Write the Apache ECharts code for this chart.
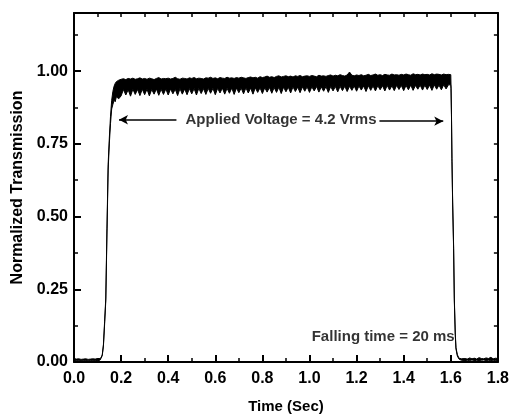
<!DOCTYPE html>
<html>
<head>
<meta charset="utf-8">
<script src="https://cdn.jsdelivr.net/npm/echarts@6/dist/echarts.min.js"></script>
<style>
html,body{margin:0;padding:0;background:#fff;}
#chart{width:512px;height:419px;}
</style>
</head>
<body>
<div id="chart"></div>
<script>
// ---- data ----
// baseline before the voltage is applied
const baseTime  = [0, 0.01, 0.02, 0.03, 0.04, 0.05, 0.06, 0.07, 0.08, 0.09, 0.10, 0.11];
const baseUpper = [0.012, 0.010, 0.011, 0.009, 0.010, 0.011, 0.009, 0.010, 0.011, 0.010, 0.012, 0.012];
const baseLower = [0.004, 0.005, 0.004, 0.005, 0.004, 0.005, 0.004, 0.005, 0.004, 0.005, 0.005, 0.006];

// rising edge
const riseTime  = [0.115, 0.12, 0.125, 0.13, 0.135, 0.14, 0.145, 0.15, 0.155, 0.16, 0.165, 0.17, 0.175, 0.18, 0.19];
const riseUpper = [0.015, 0.025, 0.06, 0.14, 0.22, 0.46, 0.68, 0.77, 0.845, 0.90, 0.93, 0.948, 0.958, 0.964, 0.969];
const riseLower = [0.013, 0.022, 0.055, 0.13, 0.21, 0.44, 0.66, 0.75, 0.82, 0.87, 0.885, 0.900, 0.895, 0.912, 0.905];

// plateau (0.20 .. 1.60 s, every 10 ms): upper envelope and lower envelope (with the downward spikes)
const plateauTime = [
  0.20,0.21,0.22,0.23,0.24,0.25,0.26,0.27,0.28,0.29,
  0.30,0.31,0.32,0.33,0.34,0.35,0.36,0.37,0.38,0.39,
  0.40,0.41,0.42,0.43,0.44,0.45,0.46,0.47,0.48,0.49,
  0.50,0.51,0.52,0.53,0.54,0.55,0.56,0.57,0.58,0.59,
  0.60,0.61,0.62,0.63,0.64,0.65,0.66,0.67,0.68,0.69,
  0.70,0.71,0.72,0.73,0.74,0.75,0.76,0.77,0.78,0.79,
  0.80,0.81,0.82,0.83,0.84,0.85,0.86,0.87,0.88,0.89,
  0.90,0.91,0.92,0.93,0.94,0.95,0.96,0.97,0.98,0.99,
  1.00,1.01,1.02,1.03,1.04,1.05,1.06,1.07,1.08,1.09,
  1.10,1.11,1.12,1.13,1.14,1.15,1.16,1.17,1.18,1.19,
  1.20,1.21,1.22,1.23,1.24,1.25,1.26,1.27,1.28,1.29,
  1.30,1.31,1.32,1.33,1.34,1.35,1.36,1.37,1.38,1.39,
  1.40,1.41,1.42,1.43,1.44,1.45,1.46,1.47,1.48,1.49,
  1.50,1.51,1.52,1.53,1.54,1.55,1.56,1.57,1.58,1.59,
  1.60];
const plateauUpper = [
  0.972,0.974,0.971,0.975,0.973,0.976,0.972,0.974,0.977,0.973,
  0.975,0.972,0.976,0.974,0.971,0.975,0.978,0.973,0.975,0.974,
  0.976,0.973,0.975,0.979,0.974,0.972,0.976,0.975,0.973,0.977,
  0.975,0.978,0.974,0.976,0.975,0.973,0.977,0.976,0.979,0.975,
  0.977,0.974,0.978,0.976,0.975,0.979,0.976,0.977,0.975,0.978,
  0.976,0.979,0.977,0.975,0.978,0.980,0.977,0.979,0.976,0.981,
  0.978,0.980,0.983,0.979,0.981,0.978,0.982,0.984,0.980,0.982,
  0.984,0.981,0.983,0.980,0.984,0.982,0.985,0.981,0.983,0.984,
  0.982,0.985,0.983,0.981,0.986,0.983,0.984,0.982,0.985,0.987,
  0.983,0.986,0.984,0.988,0.985,0.983,0.987,0.997,0.986,0.984,
  0.987,0.985,0.988,0.984,0.986,0.989,0.985,0.987,0.990,0.986,
  0.988,0.985,0.989,0.987,0.986,0.990,0.987,0.988,0.986,0.989,
  0.987,0.990,0.988,0.986,0.991,0.988,0.989,0.987,0.990,0.988,
  0.989,0.987,0.991,0.988,0.990,0.989,0.987,0.990,0.988,0.989,
  0.988];
const plateauLower = [
  0.915,0.937,0.918,0.936,0.914,0.938,0.920,0.937,0.916,0.938,
  0.919,0.938,0.915,0.937,0.921,0.939,0.917,0.938,0.920,0.939,
  0.918,0.939,0.922,0.938,0.916,0.940,0.921,0.939,0.919,0.940,
  0.922,0.940,0.918,0.941,0.923,0.940,0.920,0.941,0.924,0.941,
  0.919,0.941,0.925,0.942,0.921,0.941,0.924,0.942,0.920,0.942,
  0.926,0.942,0.922,0.943,0.925,0.942,0.921,0.943,0.927,0.943,
  0.923,0.943,0.928,0.944,0.924,0.944,0.927,0.945,0.923,0.945,
  0.929,0.945,0.925,0.946,0.930,0.945,0.926,0.946,0.931,0.946,
  0.927,0.946,0.932,0.947,0.928,0.946,0.931,0.947,0.927,0.947,
  0.932,0.947,0.929,0.948,0.933,0.948,0.930,0.948,0.934,0.949,
  0.931,0.949,0.935,0.949,0.930,0.950,0.934,0.949,0.932,0.950,
  0.936,0.950,0.932,0.951,0.935,0.950,0.933,0.951,0.937,0.951,
  0.933,0.951,0.936,0.952,0.934,0.951,0.938,0.952,0.935,0.952,
  0.937,0.952,0.934,0.953,0.938,0.952,0.936,0.953,0.939,0.953,
  0.953];

// falling edge
const fallTime  = [1.601, 1.603, 1.605, 1.608, 1.612, 1.615, 1.619, 1.622, 1.628, 1.635, 1.645];
const fallUpper = [0.95, 0.85, 0.70, 0.55, 0.40, 0.22, 0.10, 0.05, 0.025, 0.013, 0.011];
const fallLower = [0.94, 0.84, 0.69, 0.54, 0.39, 0.21, 0.095, 0.045, 0.020, 0.010, 0.006];

// baseline after the voltage is removed
const tailTime  = [1.66, 1.67, 1.68, 1.69, 1.70, 1.71, 1.72, 1.73, 1.74, 1.75, 1.76, 1.77, 1.78, 1.79, 1.80];
const tailUpper = [0.012, 0.010, 0.014, 0.011, 0.013, 0.010, 0.015, 0.012, 0.011, 0.014, 0.012, 0.016, 0.011, 0.013, 0.012];
const tailLower = [0.005, 0.006, 0.005, 0.007, 0.005, 0.006, 0.005, 0.006, 0.007, 0.005, 0.006, 0.005, 0.006, 0.005, 0.006];

// axes
const xTicks = [0.0, 0.2, 0.4, 0.6, 0.8, 1.0, 1.2, 1.4, 1.6, 1.8];
const yTicks = [0.00, 0.25, 0.50, 0.75, 1.00];
const yMax = 1.2;
const xName = 'Time (Sec)';
const yName = 'Normalized Transmission';

// annotations
const voltageText = 'Applied Voltage = 4.2 Vrms';
const voltageLabelPos = [0.879, 0.833];
const leftArrow  = [[0.435, 0.833], [0.191, 0.833]];
const rightArrow = [[1.297, 0.828], [1.568, 0.828]];
const fallText = 'Falling time = 20 ms';
const fallLabelPos = [1.313, 0.086];

// ---- build ----
const time  = [].concat(baseTime, riseTime, plateauTime, fallTime, tailTime);
const upper = [].concat(baseUpper, riseUpper, plateauUpper, fallUpper, tailUpper);
const lower = [].concat(baseLower, riseLower, plateauLower, fallLower, tailLower);
const traceData = time.map((t, i) => [t, upper[i], lower[i]]);

const FONT = 'Liberation Sans, Arial, sans-serif';
const black = '#000';

const chart = echarts.init(document.getElementById('chart'), null, {renderer: 'canvas'});

const xMin = xTicks[0], xMax = xTicks[xTicks.length - 1];
const xInt = xTicks[1] - xTicks[0];
const yInt = yTicks[1] - yTicks[0];

const axisLineStyle = {show: true, onZero: false, lineStyle: {color: black, width: 2}};

chart.setOption({
  animation: false,
  backgroundColor: '#fff',
  grid: {left: 74, right: 13, top: 13, bottom: 55, containLabel: false},
  xAxis: [
    {
      type: 'value', min: xMin, max: xMax, interval: xInt,
      name: xName, nameLocation: 'middle', nameGap: 37,
      nameTextStyle: {fontFamily: FONT, fontWeight: 'bold', fontSize: 15, color: black},
      axisLine: axisLineStyle,
      axisTick: {show: true, inside: true, length: 7, lineStyle: {color: black, width: 2}},
      minorTick: {show: true, splitNumber: 2, length: 4, lineStyle: {color: black, width: 1.5}},
      axisLabel: {show: true, margin: 9, fontFamily: FONT, fontWeight: 'bold', fontSize: 16, color: black,
        formatter: v => v.toFixed(1)},
      splitLine: {show: false}
    },
    {
      type: 'value', position: 'top', min: xMin, max: xMax, interval: xInt,
      axisLine: axisLineStyle,
      axisTick: {show: true, inside: true, length: 4, lineStyle: {color: black, width: 1.5}},
      minorTick: {show: true, splitNumber: 2, length: 4, lineStyle: {color: black, width: 1.5}},
      axisLabel: {show: false},
      splitLine: {show: false}
    }
  ],
  yAxis: [
    {
      type: 'value', min: 0, max: yMax, interval: yInt,
      name: yName, nameLocation: 'middle', nameGap: 48,
      nameTextStyle: {fontFamily: FONT, fontWeight: 'bold', fontSize: 16, color: black},
      axisLine: axisLineStyle,
      axisTick: {show: true, inside: true, length: 7, lineStyle: {color: black, width: 2}},
      minorTick: {show: true, splitNumber: 2, length: 4, lineStyle: {color: black, width: 1.5}},
      axisLabel: {show: true, margin: 6, fontFamily: FONT, fontWeight: 'bold', fontSize: 16, color: black,
        formatter: v => (v > yTicks[yTicks.length - 1] + 1e-9 ? '' : v.toFixed(2))},
      splitLine: {show: false}
    },
    {
      type: 'value', position: 'right', min: 0, max: yMax, interval: yInt,
      axisLine: axisLineStyle,
      axisTick: {show: true, inside: true, length: 4, lineStyle: {color: black, width: 1.5}},
      minorTick: {show: true, splitNumber: 2, length: 4, lineStyle: {color: black, width: 1.5}},
      axisLabel: {show: false},
      splitLine: {show: false}
    }
  ],
  series: [
    {
      // the noisy trace: filled band between its upper and lower envelopes
      name: 'trace', type: 'custom', xAxisIndex: 0, yAxisIndex: 0,
      data: [traceData[0]],
      encode: {x: 0, y: 1},
      silent: true,
      clip: true,
      renderItem: function (params, api) {
        const pts = [];
        for (let i = 0; i < traceData.length; i++) {
          pts.push(api.coord([traceData[i][0], traceData[i][1]]));
        }
        for (let i = traceData.length - 1; i >= 0; i--) {
          pts.push(api.coord([traceData[i][0], traceData[i][2]]));
        }
        return {
          type: 'polygon',
          shape: {points: pts},
          style: {fill: black, stroke: black, lineWidth: 1}
        };
      },
      z: 3
    },
    {
      name: 'annotations', type: 'scatter', xAxisIndex: 0, yAxisIndex: 0,
      symbolSize: 0, silent: true,
      data: [
        {value: voltageLabelPos, name: voltageText},
        {value: fallLabelPos, name: fallText}
      ],
      label: {show: true, position: 'inside', formatter: p => p.name,
        fontFamily: FONT, fontWeight: 'bold', fontSize: 15, color: black},
      markLine: {
        silent: true, animation: false,
        symbol: ['none', 'arrow'], symbolSize: [7, 9],
        lineStyle: {color: black, width: 1.5, type: 'solid'},
        label: {show: false},
        data: [
          [{coord: leftArrow[0]}, {coord: leftArrow[1]}],
          [{coord: rightArrow[0]}, {coord: rightArrow[1]}]
        ]
      },
      z: 5
    }
  ]
});
</script>
</body>
</html>
